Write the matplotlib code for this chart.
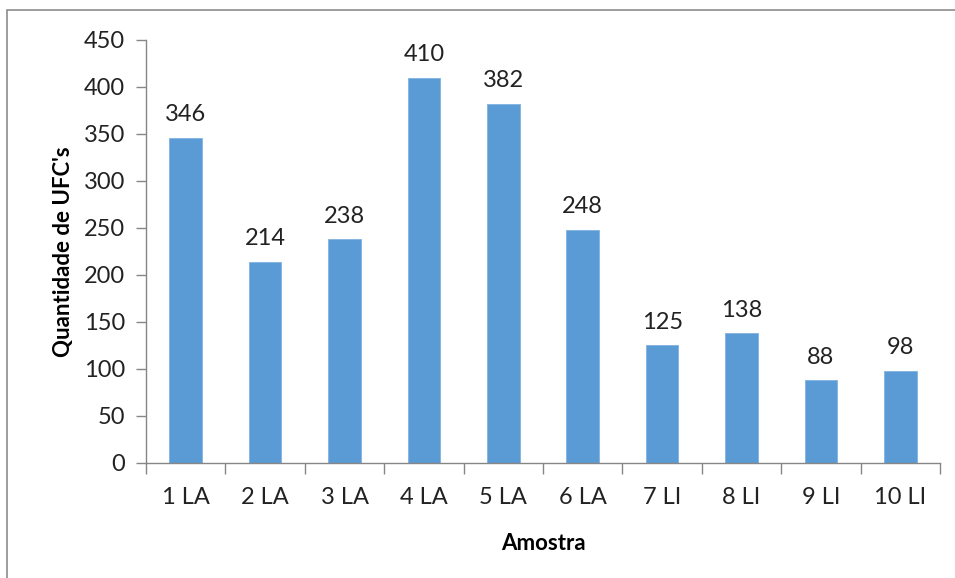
import matplotlib.pyplot as plt
from matplotlib.patches import Rectangle

amostras = ['1 LA', '2 LA', '3 LA', '4 LA', '5 LA', '6 LA', '7 LI', '8 LI', '9 LI', '10 LI']
ufcs = [346, 214, 238, 410, 382, 248, 125, 138, 88, 98]
yticks = [0, 50, 100, 150, 200, 250, 300, 350, 400, 450]

plt.rcParams['font.family'] = ['Lato', 'DejaVu Sans']

fig = plt.figure(figsize=(9.55, 5.78), dpi=100)
ax = fig.add_axes([0.1529, 0.199, 0.8314, 0.7318])

# chart area border (left and top visible)
fig.patches.append(Rectangle((7 / 955, -0.05), 1.1, 1.05 - 10 / 578,
                             transform=fig.transFigure, fill=False,
                             edgecolor='#8c8c8c', linewidth=1.2))

x = list(range(len(amostras)))
bars = ax.bar(x, ufcs, width=0.41, color='#5B9BD5', edgecolor='#7fb2e0', linewidth=0.6)
for xi, v in zip(x, ufcs):
    ax.annotate(str(v), (xi, v), xytext=(0, 9), textcoords='offset points',
                ha='center', va='bottom', fontsize=17, color='#222222')

ax.set_xlim(-0.5, len(amostras) - 0.5)
ax.set_ylim(0, 450)
ax.set_yticks(yticks)
ax.set_xticks(x)
ax.set_xticklabels(amostras)
ax.set_xticks([i - 0.5 for i in range(len(amostras) + 1)], minor=True)
ax.tick_params(axis='x', which='major', length=0, pad=17, labelsize=17, labelcolor='#222222')
ax.tick_params(axis='x', which='minor', length=8, color='#868686', width=1)
ax.tick_params(axis='y', length=7, color='#868686', width=1, labelsize=17, labelcolor='#222222', pad=8)

for s in ['top', 'right']:
    ax.spines[s].set_visible(False)
for s in ['left', 'bottom']:
    ax.spines[s].set_color('#868686')
    ax.spines[s].set_linewidth(1)

ax.set_xlabel('Amostra', fontsize=16, fontweight='bold', labelpad=18)
ax.set_ylabel("Quantidade de UFC's", fontsize=16, fontweight='bold', labelpad=7)

fig.savefig('out.png', dpi=100)
